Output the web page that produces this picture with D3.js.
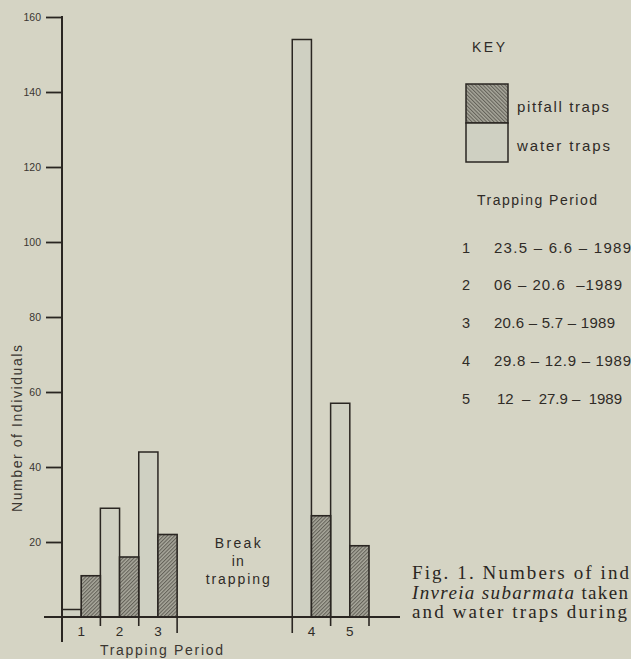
<!DOCTYPE html>
<html>
<head>
<meta charset="utf-8">
<script src="https://cdn.jsdelivr.net/npm/d3@7"></script>
<style>
  html, body { margin: 0; padding: 0; background: #d5d4c5; }
  svg { display: block; }
</style>
</head>
<body>
<script>
// ---- data ----
const periods = ["1", "2", "3", "4", "5"];
const waterTraps = [2, 29, 44, 154, 57];
const pitfallTraps = [11, 16, 22, 27, 19];
const yTicks = [20, 40, 60, 80, 100, 120, 140, 160];
const periodDates = ["23.5 \u2013 6.6 \u2013 1989", "06 \u2013 20.6  \u20131989", "20.6 \u2013 5.7 \u2013 1989", "29.8 \u2013 12.9 \u2013 1989", "12  \u2013  27.9 \u2013  1989"];
const seriesNames = ["water traps", "pitfall traps"];
const breakSlots = ["gapA", "gapB", "gapC"];
const captionLines = ["Fig. 1. Numbers of ind", "Invreia subarmata taken", "and water traps during"];

const W = 631, H = 659;
const ink = "#2a2622";
const txt = "#2f2b27";
const sans = "Liberation Sans, Arial, sans-serif";
const svg = d3.select("body").append("svg").attr("width", W).attr("height", H);
svg.append("rect").attr("width", W).attr("height", H).attr("fill", "#d5d4c4");

const defs = svg.append("defs");
function hatch(id, angle) {
  const p = defs.append("pattern").attr("id", id).attr("patternUnits", "userSpaceOnUse")
    .attr("width", 2.6).attr("height", 2.6).attr("patternTransform", `rotate(${angle})`);
  p.append("rect").attr("width", 2.6).attr("height", 2.6).attr("fill", "#a9a89c");
  p.append("line").attr("x1", 0.6).attr("y1", 0).attr("x2", 0.6).attr("y2", 2.6)
    .attr("stroke", "#55534b").attr("stroke-width", 0.9);
}
hatch("hatchBar", 45);
hatch("hatchKey", -45);

// ---- scales ----
const baseY = 617;
const y = d3.scaleLinear().domain([0, 160]).range([baseY, 17]);
const xDomain = ["1", "2", "3", ...breakSlots, "4", "5"];
const x = d3.scaleBand().domain(xDomain).range([62, 369]).paddingInner(0).paddingOuter(0);
const xi = d3.scaleBand().domain(seriesNames).range([0, x.bandwidth()]);

const rows = periods.map((p, i) => ({ p, water: waterTraps[i], pitfall: pitfallTraps[i] }));

// ---- bars ----
const g = svg.append("g");
g.selectAll(".water").data(rows).join("rect").attr("class", "water")
  .attr("x", d => x(d.p) + xi("water traps"))
  .attr("y", d => y(d.water)).attr("width", xi.bandwidth()).attr("height", d => baseY - y(d.water))
  .attr("fill", "#cfd0c2").attr("stroke", ink).attr("stroke-width", 1.5);
g.selectAll(".pit").data(rows).join("rect").attr("class", "pit")
  .attr("x", d => x(d.p) + xi("pitfall traps"))
  .attr("y", d => y(d.pitfall)).attr("width", xi.bandwidth()).attr("height", d => baseY - y(d.pitfall))
  .attr("fill", "url(#hatchBar)").attr("stroke", ink).attr("stroke-width", 1.6);

// ---- y axis ----
const yAxis = d3.axisLeft(y).tickValues(yTicks).tickSize(16).tickPadding(5).tickFormat(d3.format("d"));
const ya = svg.append("g").attr("transform", `translate(${x.range()[0]},0)`).call(yAxis);
ya.select(".domain").remove();
ya.selectAll(".tick line").attr("stroke", ink).attr("stroke-width", 1.8);
ya.selectAll(".tick text").attr("fill", "#3a3631").attr("font-family", sans).attr("font-size", 10.5);
svg.append("line").attr("x1", x.range()[0]).attr("x2", x.range()[0]).attr("y1", y(160) - 1).attr("y2", 642)
  .attr("stroke", ink).attr("stroke-width", 2);

// ---- x baseline and ticks ----
svg.append("line").attr("x1", 44).attr("x2", 400).attr("y1", baseY).attr("y2", baseY)
  .attr("stroke", ink).attr("stroke-width", 2);
const xAxis = d3.axisBottom(x).tickValues(periods).tickSize(0).tickPadding(9);
const xa = svg.append("g").attr("transform", `translate(0,${baseY})`).call(xAxis);
xa.select(".domain").remove();
xa.selectAll(".tick text").attr("fill", txt).attr("font-family", sans).attr("font-size", 13.5);
const boundaries = [];
periods.forEach((p, i) => {
  const k = xDomain.indexOf(p);
  if (i !== 0 && xDomain[k - 1] !== periods[i - 1]) boundaries.push({ x: x(p), len: 16 });
  boundaries.push({ x: x(p) + x.bandwidth(), len: i === 2 ? 16 : 9 });
});
svg.selectAll(".bt").data(boundaries).join("line")
  .attr("x1", d => d.x).attr("x2", d => d.x).attr("y1", baseY).attr("y2", d => baseY + d.len)
  .attr("stroke", ink).attr("stroke-width", 1.6);

function spaced(sel, len) {
  return sel.attr("textLength", len).attr("lengthAdjust", "spacing");
}

// ---- axis titles ----
spaced(svg.append("text").attr("transform", `translate(22,${512}) rotate(-90)`)
  .attr("font-family", sans).attr("font-size", 14).attr("fill", "#3a3631")
  .text("Number of Individuals"), 167);
spaced(svg.append("text").attr("x", 100).attr("y", 655)
  .attr("font-family", sans).attr("font-size", 14).attr("fill", "#3a3631")
  .text("Trapping Period"), 123);

// ---- break label ----
const bx = x("gapB") + x.bandwidth() / 2 + 3;
[["Break", 46], ["in", 12], ["trapping", 64]].forEach(([t, L], i) => {
  spaced(svg.append("text").attr("x", bx - L / 2).attr("y", 548 + i * 18)
    .attr("font-family", sans).attr("font-size", 14).attr("fill", txt).text(t), L);
});

// ---- key ----
spaced(svg.append("text").attr("x", 472).attr("y", 52).attr("font-family", sans).attr("font-size", 14)
  .attr("fill", txt).text("KEY"), 33);
const kx = 466, kw = 42, ky = 84, kh = 39;
svg.append("rect").attr("x", kx).attr("y", ky).attr("width", kw).attr("height", kh)
  .attr("fill", "url(#hatchKey)").attr("stroke", ink).attr("stroke-width", 1.5);
svg.append("rect").attr("x", kx).attr("y", ky + kh).attr("width", kw).attr("height", kh)
  .attr("fill", "#cfd0c2").attr("stroke", ink).attr("stroke-width", 1.5);
spaced(svg.append("text").attr("x", 517).attr("y", 112).attr("font-family", sans).attr("font-size", 15)
  .attr("fill", txt).text(seriesNames[1]), 92);
spaced(svg.append("text").attr("x", 517).attr("y", 151).attr("font-family", sans).attr("font-size", 15)
  .attr("fill", txt).text(seriesNames[0]), 93);
spaced(svg.append("text").attr("x", 477).attr("y", 205).attr("font-family", sans).attr("font-size", 14)
  .attr("fill", txt).text("Trapping Period"), 120);
const dateLens = [137, 128, 121, 137, 125];
periods.forEach((p, i) => {
  const yy = 252.5 + i * 37.8;
  svg.append("text").attr("x", 462).attr("y", yy).attr("font-family", sans).attr("font-size", 14.5)
    .attr("fill", txt).text(p);
  spaced(svg.append("text").attr("x", i === 4 ? 497 : 494).attr("y", yy).attr("font-family", sans).attr("font-size", 15)
    .attr("fill", txt).style("white-space", "pre").text(periodDates[i]), dateLens[i]);
});

// ---- caption ----
const capLens = [217, 216, 215];
captionLines.forEach((t, i) => {
  const tx = svg.append("text").attr("x", 412).attr("y", 579 + i * 19.5)
    .attr("font-family", "Liberation Serif, Times New Roman, serif").attr("font-size", 19)
    .attr("fill", "#2a2622");
  spaced(tx, capLens[i]);
  if (i === 1) {
    tx.append("tspan").attr("font-style", "italic").text("Invreia subarmata");
    tx.append("tspan").text(" taken");
  } else {
    tx.text(t);
  }
});
</script>
</body>
</html>
